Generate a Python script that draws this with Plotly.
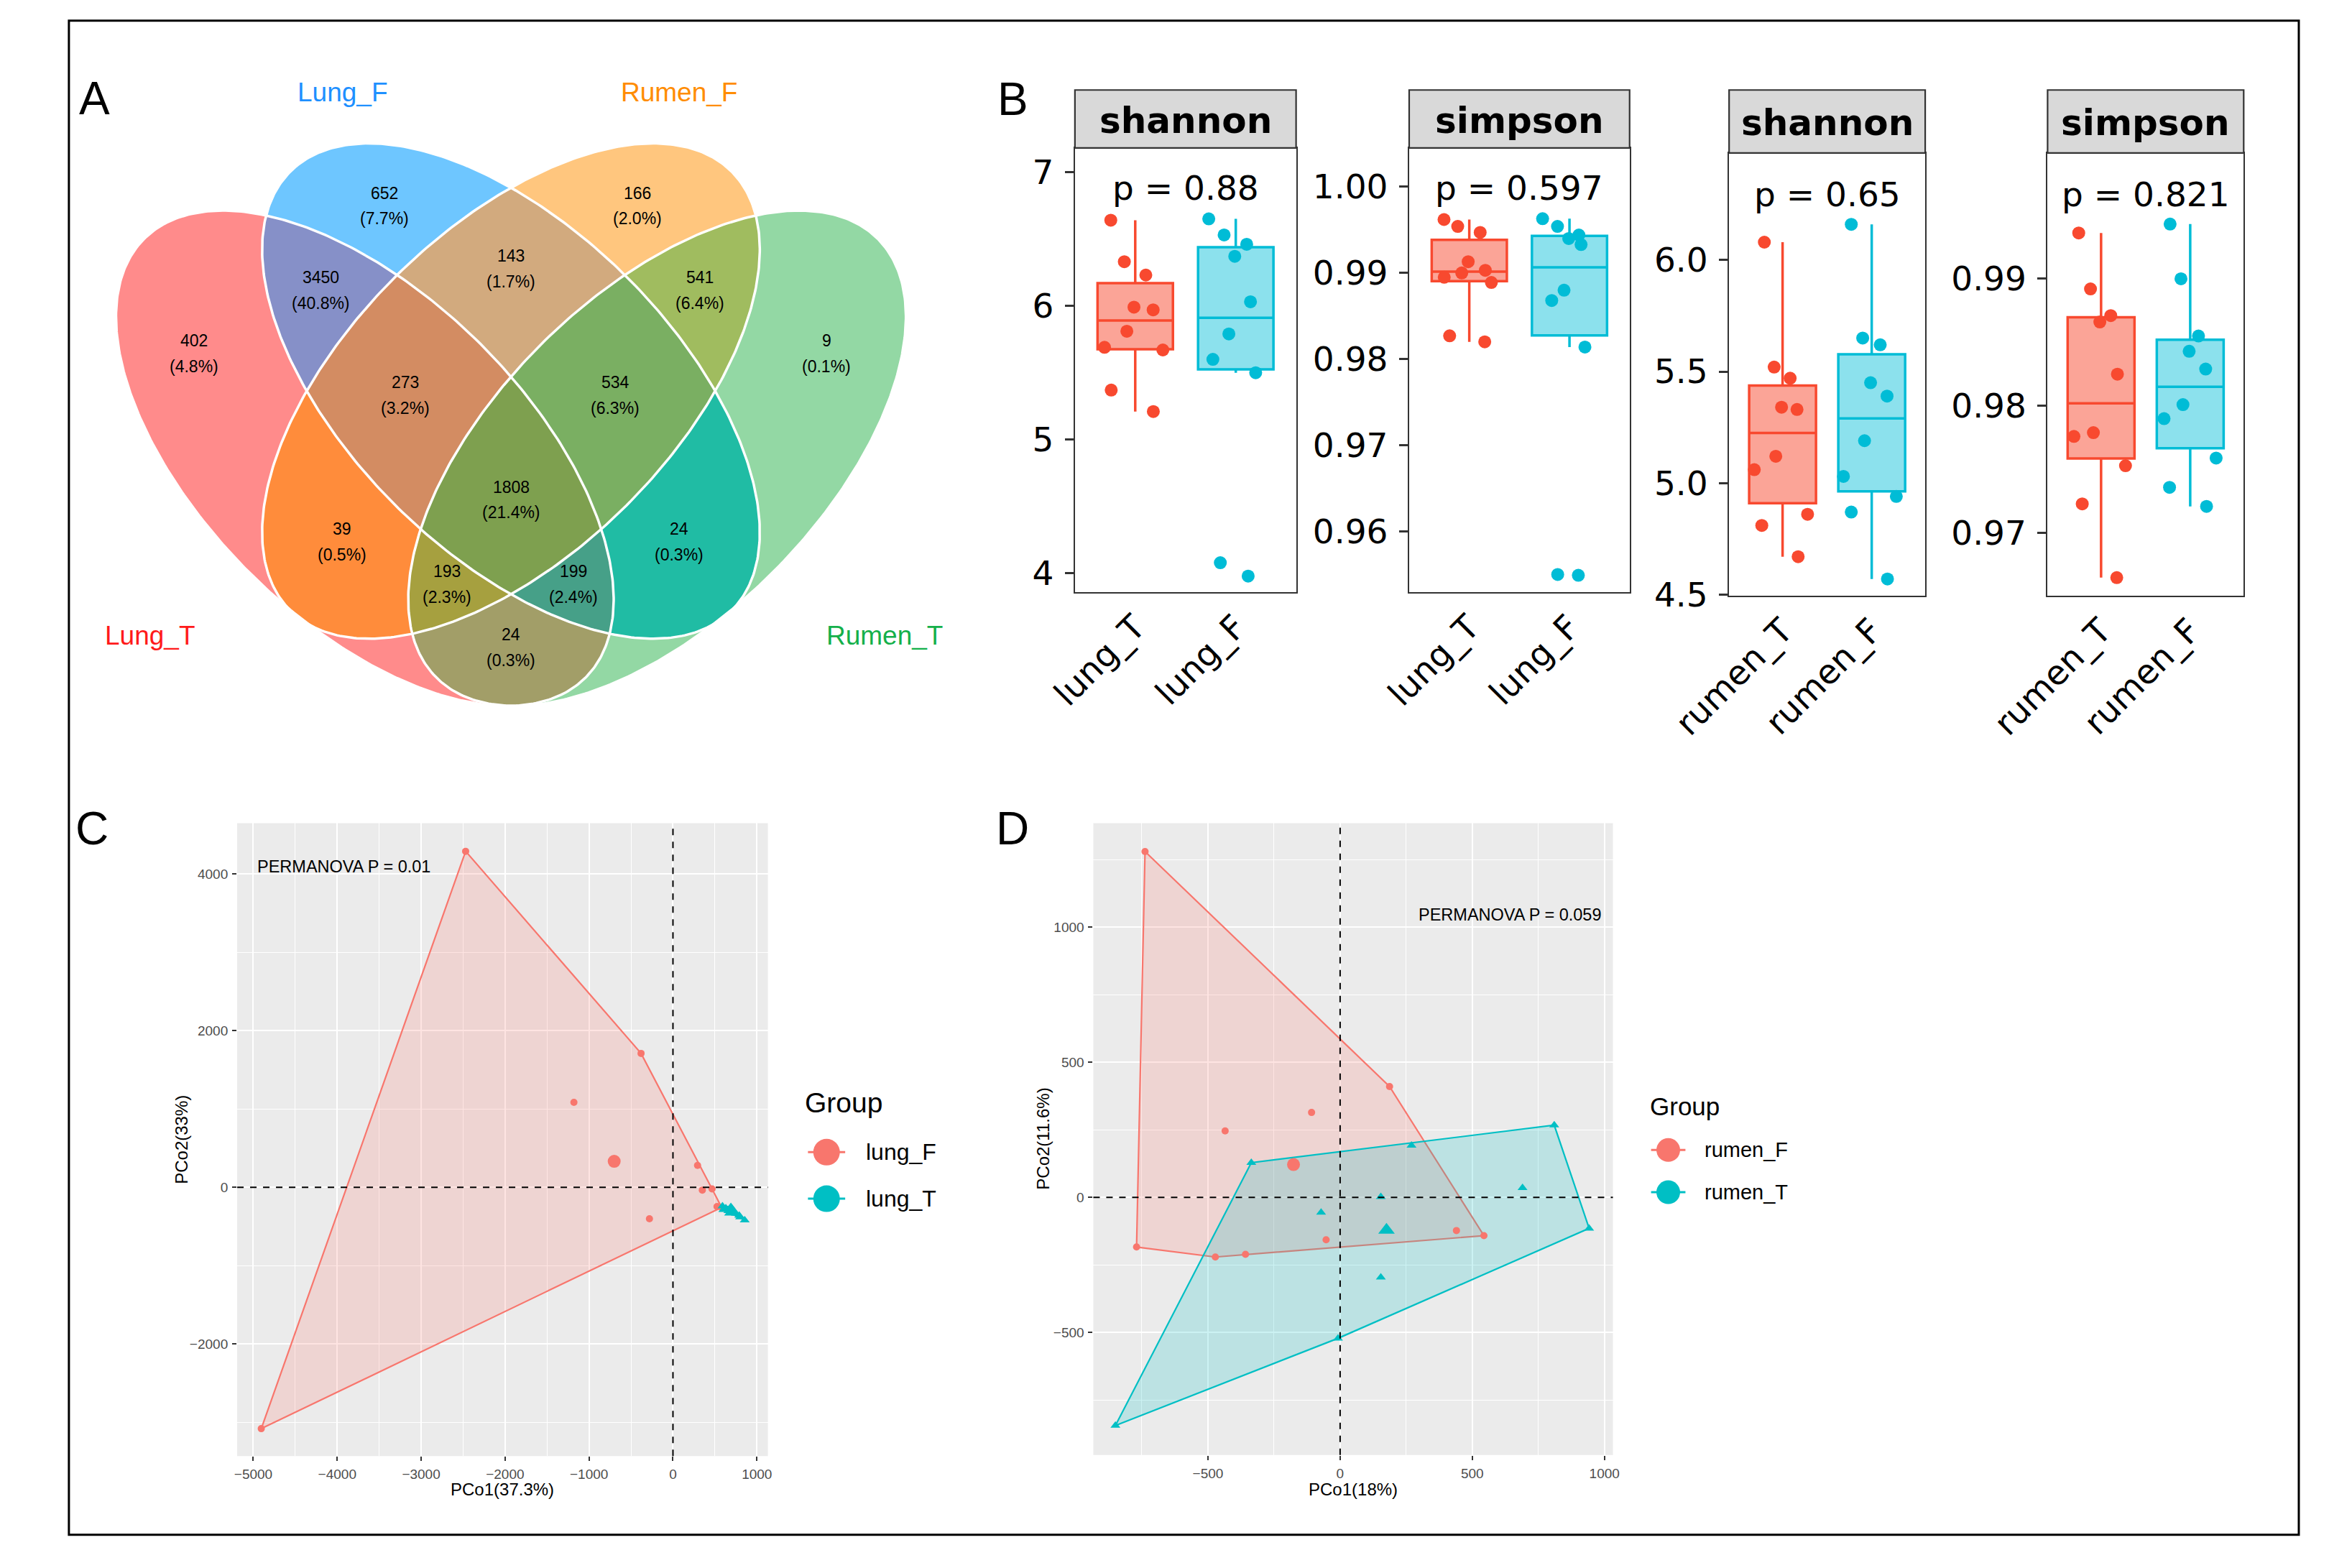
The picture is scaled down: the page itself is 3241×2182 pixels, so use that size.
import numpy as np
import plotly.graph_objects as go

# ======================= DATA =======================
# Panel A : Venn diagram
venn_sets = ["Lung_T", "Lung_F", "Rumen_F", "Rumen_T"]
venn_regions = ["1000", "0100", "0010", "0001", "1100", "0110", "0011", "1010",
                "0101", "1001", "1110", "0111", "1011", "1101", "1111"]
venn_counts = [402, 652, 166, 9, 3450, 143, 541, 39, 24, 24, 273, 534, 193, 199, 1808]

# Panel B : alpha diversity
lung_groups = ["lung_T", "lung_F"]
lung_shannon_T = [5.21, 5.37, 5.67, 5.69, 5.81, 5.97, 5.99, 6.23, 6.33, 6.64]
lung_shannon_F = [3.98, 4.08, 5.50, 5.60, 5.79, 6.03, 6.37, 6.46, 6.53, 6.65]
lung_simpson_T = [0.9820, 0.9827, 0.9889, 0.9895, 0.9900, 0.9903, 0.9913, 0.9947, 0.9954, 0.9962]
lung_simpson_F = [0.9549, 0.9550, 0.9814, 0.9868, 0.9880, 0.9933, 0.9940, 0.9944, 0.9954, 0.9963]
rumen_groups = ["rumen_T", "rumen_F"]
rumen_shannon_T = [4.67, 4.81, 4.86, 5.06, 5.12, 5.33, 5.34, 5.47, 5.52, 6.08]
rumen_shannon_F = [4.57, 4.87, 4.94, 5.03, 5.19, 5.39, 5.45, 5.62, 5.65, 6.16]
rumen_simpson_T = [0.9665, 0.9723, 0.9753, 0.9776, 0.9779, 0.9825, 0.9866, 0.9871, 0.9892, 0.9936]
rumen_simpson_F = [0.9721, 0.9736, 0.9759, 0.9790, 0.9801, 0.9829, 0.9843, 0.9855, 0.9900, 0.9943]
b_p_values = ["0.88", "0.597", "0.65", "0.821"]
b_strip_labels = ["shannon", "simpson", "shannon", "simpson"]

# Panel C : PCoA lung
lungF_pco1 = [-2470, -380, -1180, 293, 350, 466, 525, -280, -4905, 580]
lungF_pco2 = [4290, 1710, 1085, 280, -35, -20, -245, -400, -3080, -255]
lungT_pco1 = [590, 600, 630, 660, 690, 720, 750, 790, 800, 855]
lungT_pco2 = [-240, -285, -265, -300, -250, -310, -335, -360, -380, -420]
c_permanova = "PERMANOVA P = 0.01"
c_xtitle, c_ytitle = "PCo1(37.3%)", "PCo2(33%)"

# Panel D : PCoA rumen
rumenF_pco1 = [-738, 187, -108, -435, 440, 544, -53, -770, -358, -472]
rumenF_pco2 = [1280, 410, 314, 246, -123, -142, -157, -184, -211, -221]
rumenT_pco1 = [-336, 270, 810, 690, 154, -72, 942, 154, -8, -850]
rumenT_pco2 = [128, 192, 267, 35, 2, -56, -115, -296, -522, -845]
d_permanova = "PERMANOVA P = 0.059"
d_xtitle, d_ytitle = "PCo1(18%)", "PCo2(11.6%)"

# ======================= LAYOUT HELPERS =======================
W, H = 3241, 2182
# mapping from target picture pixels to figure pixels (compensates the capture)
KX, CX, KY, CY = 0.9746, 94.5, 0.9927, 6.2


def fx(X):
    return (X - CX) / KX


def fy(Y):
    return (Y - CY) / KY


def px(X):
    return fx(X) / W


def py(Y):
    return 1 - fy(Y) / H


ARIAL = "Liberation Sans, Arial, Helvetica, sans-serif"
DEJAVU = "DejaVu Sans, sans-serif"
RED_B, BLUE_B = "#F8492F", "#00BCD6"
RED_B_FILL, BLUE_B_FILL = "rgba(248,73,47,0.5)", "rgba(0,188,214,0.45)"
GG_RED, GG_CYAN = "#F8766D", "#00BFC4"

fig = go.Figure()
annotations = []
shapes = []

# canvas axis expressed directly in target-picture pixels
layout_axes = dict(
    xaxis=dict(domain=[0, 1], range=[CX, CX + KX * W], visible=False, fixedrange=True),
    yaxis=dict(domain=[0, 1], range=[CY + KY * H, CY], visible=False, fixedrange=True),
)

# ======================= PANEL A : Venn =======================
SX, SY, X0, Y0 = 1 / 1.254, 1 / 1.65, 100, 60
ell_params = [  # cx, cy, a, b, angle(deg) in a local frame
    (514, 955, 645, 317, 57.8),
    (770, 800, 645, 317, 57.8),
    (770, 800, 645, 317, 122.2),
    (1026, 955, 645, 317, 122.2),
]


def ellipse_poly(cx, cy, a, b, ang, n=420):
    t = np.linspace(0, 2 * np.pi, n, endpoint=False)
    c, s = np.cos(np.radians(ang)), np.sin(np.radians(ang))
    u, v = a * np.cos(t), b * np.sin(t)
    x = cx + u * c - v * s
    y = cy + u * s + v * c
    P = np.column_stack([X0 + x * SX, Y0 + y * SY])
    area = 0.5 * np.sum(P[:, 0] * np.roll(P[:, 1], -1) - np.roll(P[:, 0], -1) * P[:, 1])
    if area < 0:
        P = P[::-1]
    return P


def clip_poly(subject, clipper):
    out = subject
    n = len(clipper)
    for i in range(n):
        if len(out) == 0:
            break
        A = clipper[i]
        B = clipper[(i + 1) % n]
        d = B - A
        side = d[0] * (out[:, 1] - A[1]) - d[1] * (out[:, 0] - A[0])
        ins = side >= 0
        if ins.all():
            continue
        new = []
        for j in range(len(out)):
            pj = j - 1
            if ins[j]:
                if not ins[pj]:
                    t = side[pj] / (side[pj] - side[j])
                    new.append(out[pj] + t * (out[j] - out[pj]))
                new.append(out[j])
            elif ins[pj]:
                t = side[pj] / (side[pj] - side[j])
                new.append(out[pj] + t * (out[j] - out[pj]))
        out = np.array(new) if new else np.zeros((0, 2))
    return out


ellipses = [ellipse_poly(*p) for p in ell_params]
region_colors = {
    "1000": "#FF8B8B", "0100": "#6EC6FF", "0010": "#FFC67E", "0001": "#93D8A4",
    "1100": "#8690C8", "0110": "#D2AA7E", "0011": "#A0BC5F", "1010": "#FF8C3B",
    "0101": "#20BCA4", "1001": "#A29E68", "1110": "#D38C62", "0111": "#7AAF62",
    "1011": "#A6A03F", "1101": "#46A088", "1111": "#7EA04F",
}


def region_poly(code):
    idx = [i for i, ch in enumerate(code) if ch == "1"]
    P = ellipses[idx[0]]
    for k in idx[1:]:
        P = clip_poly(P, ellipses[k])
    return P


order = sorted(venn_regions, key=lambda c: c.count("1"))
for code in order:
    P = region_poly(code)
    if len(P) < 3:
        continue
    fig.add_trace(go.Scatter(x=list(P[:, 0]) + [P[0, 0]], y=list(P[:, 1]) + [P[0, 1]],
                             mode="lines", fill="toself", fillcolor=region_colors[code],
                             line=dict(color=region_colors[code], width=0.6),
                             hoverinfo="skip", showlegend=False))
for P in ellipses:
    fig.add_trace(go.Scatter(x=list(P[:, 0]) + [P[0, 0]], y=list(P[:, 1]) + [P[0, 1]],
                             mode="lines", line=dict(color="white", width=3.5),
                             hoverinfo="skip", showlegend=False))

venn_total = sum(venn_counts)
venn_label_pos = {  # local frame
    "1000": (215, 713), "0100": (548, 373), "0010": (992, 373), "0001": (1323, 713),
    "1100": (437, 568), "0110": (770, 518), "0011": (1101, 568), "1010": (474, 1148),
    "0101": (1065, 1148), "1001": (770, 1391), "1110": (585, 810), "0111": (953, 810),
    "1011": (658, 1245), "1101": (880, 1245), "1111": (770, 1051),
}
for code, cnt in zip(venn_regions, venn_counts):
    lx, ly = venn_label_pos[code]
    X, Y = X0 + lx * SX, Y0 + ly * SY
    pct = 100.0 * cnt / venn_total
    for txt, dy in ((str(cnt), -18), ("(%.1f%%)" % pct, 18)):
        annotations.append(dict(x=px(X), y=py(Y + dy), xref="paper", yref="paper",
                                text=txt, showarrow=False, xanchor="center", yanchor="middle",
                                font=dict(family=ARIAL, size=23, color="black")))

set_label_pos = [(210, 887), (479, 127), (949, 127), (1236, 887)]
set_label_colors = ["#FF1A1A", "#1E90FF", "#FF8C00", "#14B04A"]
for name, (X, Y), col in zip(venn_sets, set_label_pos, set_label_colors):
    annotations.append(dict(x=px(X), y=py(Y), xref="paper", yref="paper", text=name,
                            showarrow=False, xanchor="center", yanchor="middle",
                            font=dict(family=ARIAL, size=37, color=col)))

# ======================= PANEL B : boxplots =======================
b_panels = [
    dict(l=1502, r=1811, st=124, sb=205, pb=826, yr=[3.86, 7.18], tv=[4, 5, 6, 7], fmt="d",
         groups=lung_groups, data=(lung_shannon_T, lung_shannon_F), py=261),
    dict(l=1969, r=2277, st=124, sb=205, pb=826, yr=[0.95295, 1.00451],
         tv=[0.96, 0.97, 0.98, 0.99, 1.00], fmt=".2f",
         groups=lung_groups, data=(lung_simpson_T, lung_simpson_F), py=261),
    dict(l=2416, r=2690, st=124, sb=212, pb=831, yr=[4.495, 6.48], tv=[4.5, 5.0, 5.5, 6.0], fmt=".1f",
         groups=rumen_groups, data=(rumen_shannon_T, rumen_shannon_F), py=270),
    dict(l=2861, r=3135, st=124, sb=212, pb=831, yr=[0.96508, 0.99989], tv=[0.97, 0.98, 0.99], fmt=".2f",
         groups=rumen_groups, data=(rumen_simpson_T, rumen_simpson_F), py=270),
]


def box_stats(v):
    v = np.asarray(v, dtype=float)
    q1, med, q3 = np.percentile(v, [25, 50, 75])
    iqr = q3 - q1
    lf = v[v >= q1 - 1.5 * iqr].min()
    uf = v[v <= q3 + 1.5 * iqr].max()
    return q1, med, q3, lf, uf


for k, pnl in enumerate(b_panels):
    ax_id = k + 2
    xa, ya = "x%d" % ax_id, "y%d" % ax_id
    layout_axes["xaxis%d" % ax_id] = dict(
        domain=[px(pnl["l"]), px(pnl["r"])], anchor=ya, type="category",
        categoryorder="array", categoryarray=pnl["groups"], range=[-0.6, 1.6],
        showline=True, mirror=True, linecolor="#333333", linewidth=2.2,
        ticks="", showgrid=False, zeroline=False, tickangle=-45,
        tickfont=dict(family=DEJAVU, size=47, color="black"), fixedrange=True)
    layout_axes["yaxis%d" % ax_id] = dict(
        domain=[py(pnl["pb"]), py(pnl["sb"])], anchor=xa, range=pnl["yr"],
        tickmode="array", tickvals=pnl["tv"],
        ticktext=[(str(int(round(t))) if pnl["fmt"] == "d" else format(t, pnl["fmt"])) for t in pnl["tv"]],
        showline=True, mirror=True, linecolor="#333333", linewidth=2.2,
        ticks="outside", ticklen=12, tickwidth=2.5, tickcolor="#333333",
        ticklabelstandoff=6, showgrid=False, zeroline=False,
        tickfont=dict(family=DEJAVU, size=47, color="black"), fixedrange=True)
    for grp, vals, lc, fc in zip(pnl["groups"], pnl["data"], (RED_B, BLUE_B), (RED_B_FILL, BLUE_B_FILL)):
        q1, med, q3, lf, uf = box_stats(vals)
        fig.add_trace(go.Box(x=[grp], q1=[q1], median=[med], q3=[q3], lowerfence=[lf],
                             upperfence=[uf], width=0.75, whiskerwidth=0, boxpoints=False,
                             fillcolor=fc, line=dict(color=lc, width=3.5),
                             xaxis=xa, yaxis=ya, showlegend=False, hoverinfo="skip"))
        fig.add_trace(go.Box(x=[grp] * len(vals), y=vals, width=0.75, boxpoints="all",
                             jitter=1.0, pointpos=0, fillcolor="rgba(0,0,0,0)",
                             line=dict(color="rgba(0,0,0,0)", width=0),
                             marker=dict(color=lc, size=18, opacity=1),
                             xaxis=xa, yaxis=ya, showlegend=False, hoverinfo="skip"))
    shapes.append(dict(type="rect", xref="paper", yref="paper",
                       x0=px(pnl["l"]), x1=px(pnl["r"]), y0=py(pnl["sb"]), y1=py(pnl["st"]),
                       fillcolor="#D9D9D9", line=dict(color="#333333", width=2.2), layer="above"))
    annotations.append(dict(x=px((pnl["l"] + pnl["r"]) / 2), y=py((pnl["st"] + pnl["sb"]) / 2 + 2),
                            xref="paper", yref="paper", text="<b>%s</b>" % b_strip_labels[k],
                            showarrow=False, xanchor="center", yanchor="middle",
                            font=dict(family=DEJAVU, size=50, color="black")))
    annotations.append(dict(x=px((pnl["l"] + pnl["r"]) / 2), y=py(pnl["py"]),
                            xref="paper", yref="paper", text="p = %s" % b_p_values[k],
                            showarrow=False, xanchor="center", yanchor="middle",
                            font=dict(family=DEJAVU, size=47, color="black")))


# ======================= PANELS C & D : PCoA =======================
def convex_hull(xs, ys):
    pts = sorted(set(zip(xs, ys)))

    def cross(o, a, b):
        return (a[0] - o[0]) * (b[1] - o[1]) - (a[1] - o[1]) * (b[0] - o[0])
    lower, upper = [], []
    for p in pts:
        while len(lower) >= 2 and cross(lower[-2], lower[-1], p) <= 0:
            lower.pop()
        lower.append(p)
    for p in reversed(pts):
        while len(upper) >= 2 and cross(upper[-2], upper[-1], p) <= 0:
            upper.pop()
        upper.append(p)
    h = lower[:-1] + upper[:-1]
    h.append(h[0])
    return [p[0] for p in h], [p[1] for p in h]


pcoa_panels = [
    dict(id=6, l=331.5, r=1073, t=1149, b=2034, xr=[-5192, 1131], yr=[-3431, 4649],
         xd=1000, yd=2000,
         groups=[("lung_F", lungF_pco1, lungF_pco2, GG_RED, "rgba(248,118,109,0.2)", "circle"),
                 ("lung_T", lungT_pco1, lungT_pco2, GG_CYAN, "rgba(0,191,196,0.2)", "triangle-up")],
         perm=c_permanova, perm_pos=(358, 1210, "left"), xt=c_xtitle, yt=c_ytitle, ytx=254),
    dict(id=7, l=1527.7, r=2253.7, t=1149, b=2032.4, xr=[-933.6, 1032], yr=[-954, 1385],
         xd=500, yd=500,
         groups=[("rumen_F", rumenF_pco1, rumenF_pco2, GG_RED, "rgba(248,118,109,0.2)", "circle"),
                 ("rumen_T", rumenT_pco1, rumenT_pco2, GG_CYAN, "rgba(0,191,196,0.2)", "triangle-up")],
         perm=d_permanova, perm_pos=(2240, 1277, "right"), xt=d_xtitle, yt=d_ytitle, ytx=1457.5),
]

for pnl in pcoa_panels:
    i = pnl["id"]
    xa, ya = "x%d" % i, "y%d" % i
    common = dict(showline=False, zeroline=False, ticks="outside", ticklen=6, tickwidth=1.5,
                  tickcolor="#333333", showgrid=True, gridcolor="white", gridwidth=2.2,
                  tickfont=dict(family=ARIAL, size=19, color="#4D4D4D"), fixedrange=True,
                  tickmode="linear", tick0=0, ticklabelstandoff=2)
    layout_axes["xaxis%d" % i] = dict(domain=[px(pnl["l"]), px(pnl["r"])], anchor=ya,
                                      range=pnl["xr"], dtick=pnl["xd"],
                                      minor=dict(dtick=pnl["xd"] / 2, showgrid=True,
                                                 gridcolor="white", gridwidth=1.1, ticks=""),
                                      **common)
    layout_axes["yaxis%d" % i] = dict(domain=[py(pnl["b"]), py(pnl["t"])], anchor=xa,
                                      range=pnl["yr"], dtick=pnl["yd"],
                                      minor=dict(dtick=pnl["yd"] / 2, showgrid=True,
                                                 gridcolor="white", gridwidth=1.1, ticks=""),
                                      **common)
    shapes.append(dict(type="rect", xref="%s domain" % xa, yref="%s domain" % ya,
                       x0=0, x1=1, y0=0, y1=1, fillcolor="#EBEBEB", line=dict(width=0),
                       layer="below"))
    for name, gx, gy, col, fcol, sym in pnl["groups"]:
        hx, hy = convex_hull(gx, gy)
        fig.add_trace(go.Scatter(x=hx, y=hy, mode="lines", fill="toself", fillcolor=fcol,
                                 line=dict(color=col, width=2.2), xaxis=xa, yaxis=ya,
                                 showlegend=False, hoverinfo="skip"))
    for name, gx, gy, col, fcol, sym in pnl["groups"]:
        fig.add_trace(go.Scatter(x=gx, y=gy, mode="markers",
                                 marker=dict(color=col, size=10 if sym == "circle" else 12, symbol=sym),
                                 xaxis=xa, yaxis=ya, showlegend=False, hoverinfo="skip"))
        fig.add_trace(go.Scatter(x=[float(np.mean(gx))], y=[float(np.mean(gy))], mode="markers",
                                 marker=dict(color=col, size=18 if sym == "circle" else 20, symbol=sym),
                                 xaxis=xa, yaxis=ya, showlegend=False, hoverinfo="skip"))
    shapes.append(dict(type="line", xref=xa, yref="%s domain" % ya, x0=0, x1=0, y0=0, y1=1,
                       line=dict(color="black", width=2, dash="dash"), layer="above"))
    shapes.append(dict(type="line", xref="%s domain" % xa, yref=ya, x0=0, x1=1, y0=0, y1=0,
                       line=dict(color="black", width=2, dash="dash"), layer="above"))
    ppx, ppy, anc = pnl["perm_pos"]
    annotations.append(dict(x=px(ppx), y=py(ppy), xref="paper", yref="paper", text=pnl["perm"],
                            showarrow=False, xanchor=anc, yanchor="middle",
                            font=dict(family=ARIAL, size=23.5, color="black")))
    annotations.append(dict(x=px((pnl["l"] + pnl["r"]) / 2), y=py(2080), xref="paper", yref="paper",
                            text=pnl["xt"], showarrow=False, xanchor="center", yanchor="middle",
                            font=dict(family=ARIAL, size=24, color="black")))
    annotations.append(dict(x=px(pnl["ytx"]), y=py((pnl["t"] + pnl["b"]) / 2), xref="paper",
                            yref="paper", text=pnl["yt"], textangle=-90, showarrow=False,
                            xanchor="center", yanchor="middle",
                            font=dict(family=ARIAL, size=24, color="black")))

legend_specs = [
    dict(tx=1123, ty=1540, tsize=39, keyx=1155, keys=[1609, 1674], half=26, msize=37,
         lx=1208, lsize=32, names=["lung_F", "lung_T"]),
    dict(tx=2303, ty=1545, tsize=35, keyx=2331, keys=[1606, 1665], half=24, msize=33,
         lx=2380, lsize=29, names=["rumen_F", "rumen_T"]),
]
for lg in legend_specs:
    annotations.append(dict(x=px(lg["tx"]), y=py(lg["ty"]), xref="paper", yref="paper",
                            text="Group", showarrow=False, xanchor="left", yanchor="middle",
                            font=dict(family=ARIAL, size=lg["tsize"], color="black")))
    for ky, nm, col in zip(lg["keys"], lg["names"], (GG_RED, GG_CYAN)):
        fig.add_trace(go.Scatter(x=[lg["keyx"] - lg["half"], lg["keyx"] + lg["half"]], y=[ky, ky],
                                 mode="lines", line=dict(color=col, width=3),
                                 showlegend=False, hoverinfo="skip"))
        fig.add_trace(go.Scatter(x=[lg["keyx"]], y=[ky], mode="markers",
                                 marker=dict(color=col, size=lg["msize"]),
                                 showlegend=False, hoverinfo="skip"))
        annotations.append(dict(x=px(lg["lx"]), y=py(ky), xref="paper", yref="paper", text=nm,
                                showarrow=False, xanchor="left", yanchor="middle",
                                font=dict(family=ARIAL, size=lg["lsize"], color="black")))

for letter, (X, Y) in zip("ABCD", [(132, 136), (1415, 137), (129, 1157), (1415, 1157)]):
    annotations.append(dict(x=px(X), y=py(Y), xref="paper", yref="paper", text=letter,
                            showarrow=False, xanchor="center", yanchor="middle",
                            font=dict(family=ARIAL, size=64, color="black")))
shapes.append(dict(type="rect", xref="paper", yref="paper", x0=max(px(23), 0.0006), x1=px(3212),
                   y0=py(2144), y1=py(27), line=dict(color="black", width=3),
                   fillcolor="rgba(0,0,0,0)", layer="above"))

fig.update_layout(
    width=W, height=H, margin=dict(l=0, r=0, t=0, b=0),
    paper_bgcolor="white", plot_bgcolor="rgba(0,0,0,0)",
    boxmode="overlay", showlegend=False,
    annotations=annotations, shapes=shapes, **layout_axes,
)
fig.write_html("out.html")
